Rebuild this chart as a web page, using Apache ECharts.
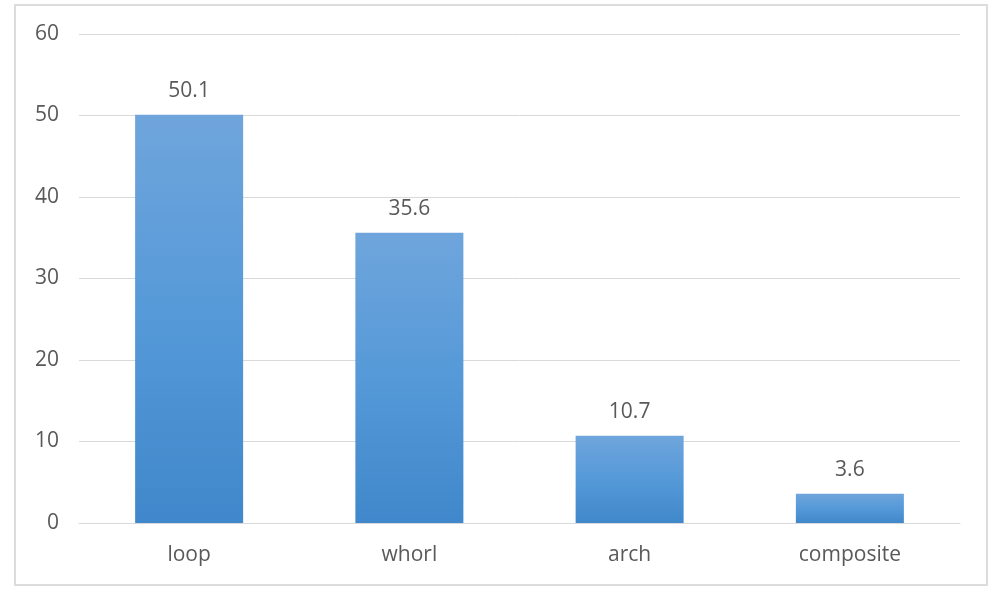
<!DOCTYPE html>
<html>
<head>
<meta charset="utf-8">
<script src="https://cdn.jsdelivr.net/npm/echarts@6/dist/echarts.min.js"></script>
<style>
  html, body { margin: 0; padding: 0; background: #fff; }
  #chart { width: 1000px; height: 594px; }
</style>
</head>
<body>
<div id="chart"></div>
<script>
// 类别与数值
var categories = ["loop", "whorl", "arch", "composite"];
var values = [50.1, 35.6, 10.7, 3.6];
var yTicks = [0, 10, 20, 30, 40, 50, 60];

var myChart = echarts.init(document.getElementById("chart"));
var option = {
  backgroundColor: "#ffffff",
  textStyle: { fontFamily: "Open Sans" },
  // 外边框
  graphic: [
    {
      type: "rect",
      shape: { x: 15, y: 5, width: 972, height: 580 },
      style: { fill: "none", stroke: "#dcdcdc", lineWidth: 2 },
      silent: true
    }
  ],
  grid: { left: 79, right: 40, top: 34, bottom: 71 },
  xAxis: {
    type: "category",
    data: categories,
    axisLine: { show: true, lineStyle: { color: "#d9d9d9", width: 1 } },
    axisTick: { show: false },
    axisLabel: { color: "#595959", fontSize: 21, margin: 22 }
  },
  yAxis: {
    type: "value",
    min: yTicks[0],
    max: yTicks[yTicks.length - 1],
    interval: 10,
    axisLine: { show: false },
    axisTick: { show: false },
    splitLine: { lineStyle: { color: "#d9d9d9", width: 1 } },
    axisLabel: { color: "#595959", fontSize: 21, margin: 20 }
  },
  series: [
    {
      type: "bar",
      data: values,
      barWidth: 108,
      itemStyle: {
        color: new echarts.graphic.LinearGradient(0, 0, 0, 1, [
          { offset: 0, color: "#6fa5dc" },
          { offset: 0.5, color: "#5599d8" },
          { offset: 1, color: "#4088cb" }
        ])
      },
      label: {
        show: true,
        position: "top",
        distance: 13,
        color: "#595959",
        fontSize: 21
      }
    }
  ]
};
myChart.setOption(option);
</script>
</body>
</html>
